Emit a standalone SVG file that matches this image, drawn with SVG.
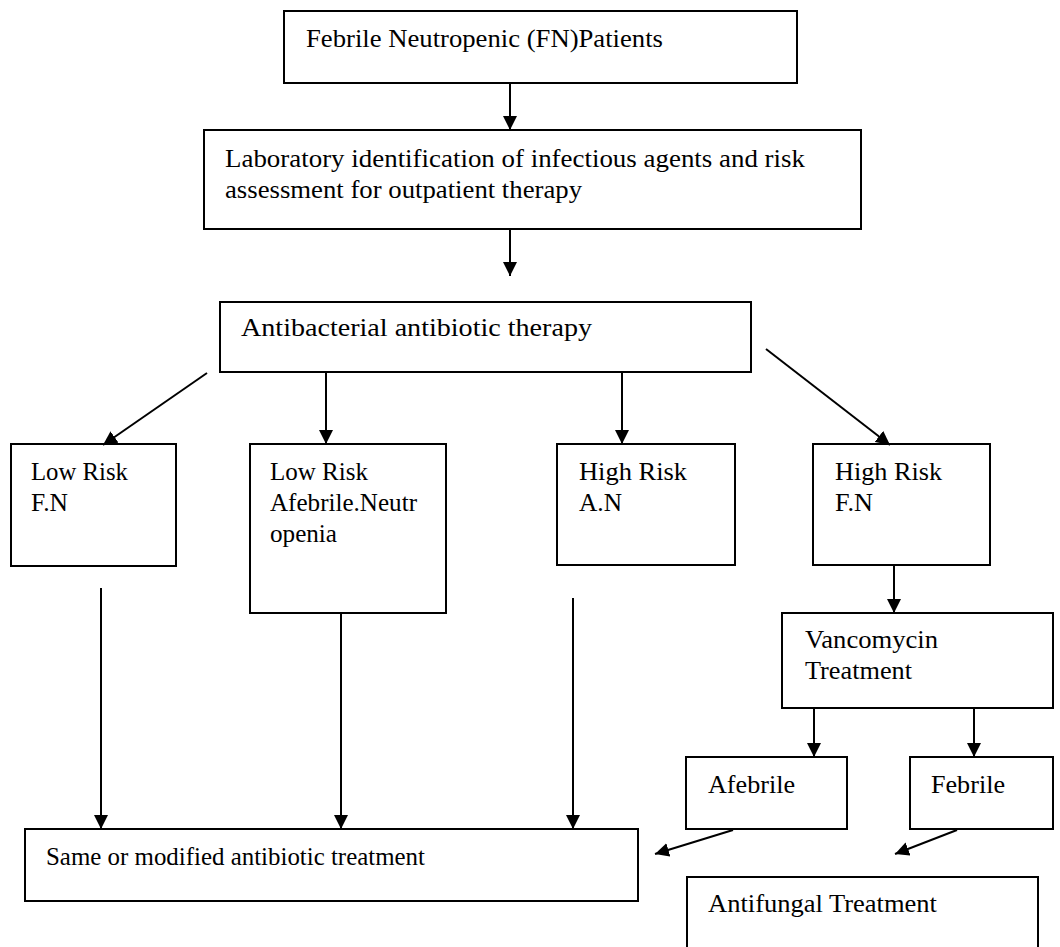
<svg xmlns="http://www.w3.org/2000/svg" width="1060" height="947" viewBox="0 0 1060 947">
<style>
rect{fill:#fff;stroke:#000;stroke-width:2}
text{font-family:"Liberation Serif","Times New Roman",serif;font-size:25px;fill:#000}
.c line{stroke:#000;stroke-width:2;marker-end:url(#ah)}
</style>
<defs>
<marker id="ah" viewBox="0 0 10 10" refX="10" refY="5" markerWidth="7" markerHeight="7" markerUnits="strokeWidth" orient="auto">
<path d="M0,0 L10,5 L0,10 Z" fill="#000"/>
</marker>
</defs>
<rect width="1060" height="947" style="fill:#fff;stroke:none"/>
<g id="n1"><rect x="284" y="11" width="513" height="72"/><text x="306" y="47" textLength="357" lengthAdjust="spacingAndGlyphs">Febrile Neutropenic (FN)Patients</text></g>
<g id="n2"><rect x="204" y="130" width="657" height="99"/><text x="225" y="167" textLength="580" lengthAdjust="spacingAndGlyphs">Laboratory identification of infectious agents and risk</text><text x="225" y="198" textLength="357" lengthAdjust="spacingAndGlyphs">assessment for outpatient therapy</text></g>
<g id="n3"><rect x="220" y="302" width="531" height="70"/><text x="241" y="336" textLength="351" lengthAdjust="spacingAndGlyphs">Antibacterial antibiotic therapy</text></g>
<g id="n4"><rect x="11" y="444" width="165" height="122"/><text x="31" y="480" textLength="97" lengthAdjust="spacingAndGlyphs">Low Risk</text><text x="31" y="511" textLength="37" lengthAdjust="spacingAndGlyphs">F.N</text></g>
<g id="n5"><rect x="250" y="444" width="196" height="169"/><text x="270" y="480" textLength="98" lengthAdjust="spacingAndGlyphs">Low Risk</text><text x="270" y="511" textLength="147" lengthAdjust="spacingAndGlyphs">Afebrile.Neutr</text><text x="270" y="542" textLength="67" lengthAdjust="spacingAndGlyphs">openia</text></g>
<g id="n6"><rect x="557" y="444" width="178" height="121"/><text x="579" y="480" textLength="108" lengthAdjust="spacingAndGlyphs">High Risk</text><text x="579" y="511" textLength="43" lengthAdjust="spacingAndGlyphs">A.N</text></g>
<g id="n7"><rect x="813" y="444" width="177" height="121"/><text x="835" y="480" textLength="107" lengthAdjust="spacingAndGlyphs">High Risk</text><text x="835" y="511" textLength="38" lengthAdjust="spacingAndGlyphs">F.N</text></g>
<g id="n8"><rect x="782" y="613" width="271" height="95"/><text x="805" y="648" textLength="133" lengthAdjust="spacingAndGlyphs">Vancomycin</text><text x="805" y="679" textLength="107" lengthAdjust="spacingAndGlyphs">Treatment</text></g>
<g id="n9"><rect x="686" y="757" width="161" height="72"/><text x="708" y="793" textLength="87" lengthAdjust="spacingAndGlyphs">Afebrile</text></g>
<g id="n10"><rect x="910" y="757" width="143" height="72"/><text x="931" y="793" textLength="74" lengthAdjust="spacingAndGlyphs">Febrile</text></g>
<g id="n11"><rect x="25" y="829" width="613" height="72"/><text x="46" y="865" textLength="379" lengthAdjust="spacingAndGlyphs">Same or modified antibiotic treatment</text></g>
<g id="n12"><rect x="687" y="877" width="351" height="90"/><text x="708" y="912" textLength="229" lengthAdjust="spacingAndGlyphs">Antifungal Treatment</text></g>
<g class="c" id="connectors">
<line x1="510" y1="83" x2="510" y2="130"/>
<line x1="510" y1="229" x2="510" y2="276"/>
<line x1="207" y1="373" x2="103" y2="445"/>
<line x1="326" y1="372" x2="326" y2="444"/>
<line x1="622" y1="372" x2="622" y2="444"/>
<line x1="766" y1="349" x2="890" y2="445"/>
<line x1="894" y1="565" x2="894" y2="613"/>
<line x1="814" y1="708" x2="814" y2="757"/>
<line x1="974" y1="708" x2="974" y2="757"/>
<line x1="101" y1="588" x2="101" y2="829"/>
<line x1="341" y1="613" x2="341" y2="829"/>
<line x1="573" y1="598" x2="573" y2="829"/>
<line x1="733" y1="830" x2="655" y2="854"/>
<line x1="957" y1="830" x2="895" y2="854"/>
</g>
</svg>
